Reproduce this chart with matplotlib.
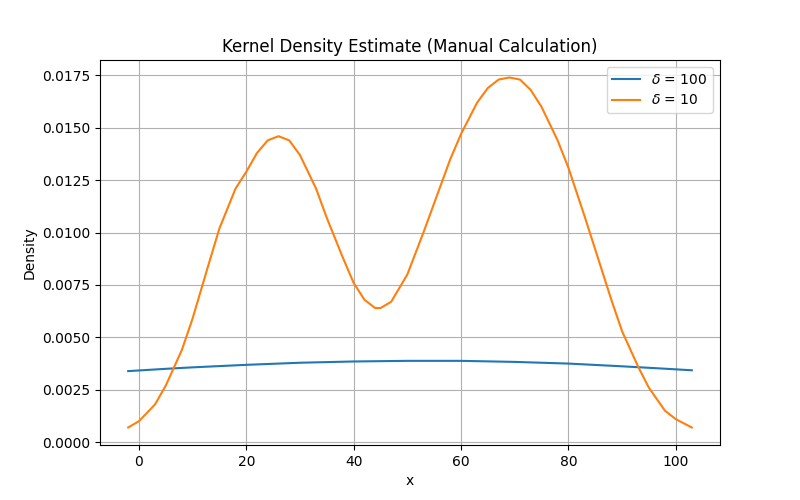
import numpy as np
import matplotlib.pyplot as plt

# values
x_wide = [-2, 5, 10, 20, 30, 40, 50, 60, 70, 80, 90, 97, 103]
d_wide = [0.00339, 0.00350, 0.00357, 0.00369, 0.00379, 0.00385, 0.00388, 0.00388,
          0.00383, 0.00375, 0.00362, 0.00352, 0.00343]

x_narrow = [-2, 0, 3, 5, 8, 10, 13, 15, 18, 20, 22, 24, 26, 28, 30, 33, 35, 38, 40,
            42, 44, 45, 47, 50, 53, 55, 58, 60, 63, 65, 67, 69, 71, 73, 75, 78, 80,
            83, 85, 88, 90, 93, 95, 98, 100, 103]
d_narrow = [0.0007, 0.0010, 0.0018, 0.0027, 0.0044, 0.0059, 0.0085, 0.0102, 0.0121,
            0.0129, 0.0138, 0.0144, 0.0146, 0.0144, 0.0137, 0.0121, 0.0107, 0.0088,
            0.0076, 0.0068, 0.0064, 0.0064, 0.0067, 0.0080, 0.0100, 0.0114, 0.0135,
            0.0147, 0.0162, 0.0169, 0.0173, 0.0174, 0.0173, 0.0168, 0.0160, 0.0144,
            0.0131, 0.0108, 0.0092, 0.0068, 0.0053, 0.0036, 0.0026, 0.0015, 0.0011,
            0.0007]

fig, ax = plt.subplots(figsize=(8, 5), dpi=100)
ax.plot(x_wide, d_wide, label=r'$\delta$ = 100')
ax.plot(x_narrow, d_narrow, label=r'$\delta$ = 10')
ax.set_title('Kernel Density Estimate (Manual Calculation)')
ax.set_xlabel('x')
ax.set_ylabel('Density')
ax.grid(True)
ax.legend(loc='upper right')
fig.savefig('out.png')
